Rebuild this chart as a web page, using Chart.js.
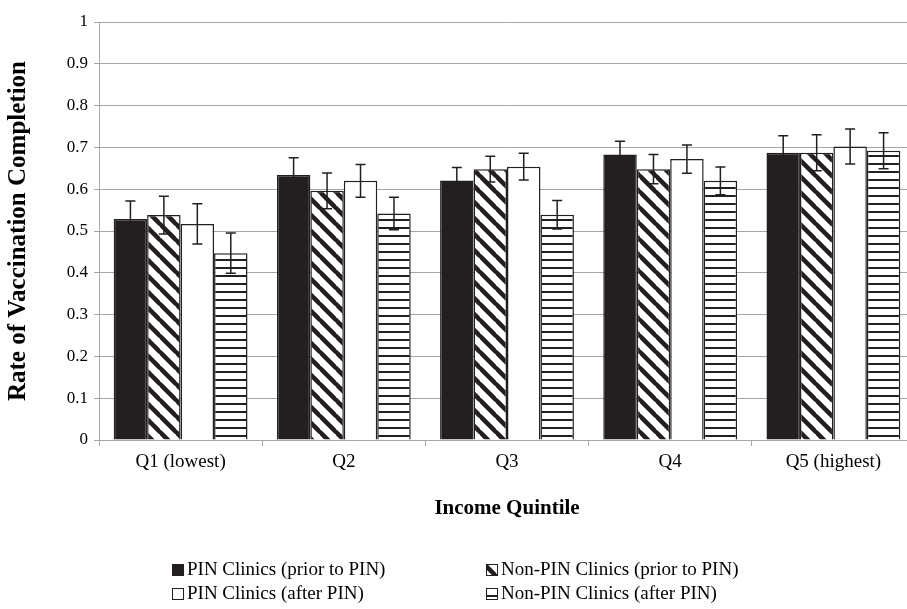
<!DOCTYPE html>
<html>
<head>
<meta charset="utf-8">
<title>Rate of Vaccination Completion by Income Quintile</title>
<script src="https://cdn.jsdelivr.net/npm/chart.js@4.4.1/dist/chart.umd.min.js"></script>
<style>
  html, body { margin: 0; padding: 0; background: #fff; overflow: hidden; }
  /* the original figure is cropped on the right, so the plot runs past the frame */
  #wrap { width: 907px; height: 609px; overflow: hidden; }
</style>
</head>
<body>
<div id="wrap"><canvas id="chart" width="916" height="609"></canvas></div>
<script>
const quintiles = ['Q1 (lowest)', 'Q2', 'Q3', 'Q4', 'Q5 (highest)'];
const seriesNames = [
  'PIN Clinics (prior to PIN)',
  'Non-PIN Clinics (prior to PIN)',
  'PIN Clinics (after PIN)',
  'Non-PIN Clinics (after PIN)',
];

const pinPrior = [0.529, 0.634, 0.621, 0.683, 0.687];
const nonPinPrior = [0.538, 0.596, 0.648, 0.648, 0.687];
const pinAfter = [0.517, 0.620, 0.654, 0.672, 0.702];
const nonPinAfter = [0.447, 0.542, 0.539, 0.620, 0.692];

// half-width of the error bars
const pinPriorErr = [0.043, 0.041, 0.031, 0.032, 0.041];
const nonPinPriorErr = [0.045, 0.043, 0.031, 0.035, 0.043];
const pinAfterErr = [0.048, 0.039, 0.032, 0.034, 0.042];
const nonPinAfterErr = [0.048, 0.039, 0.034, 0.033, 0.043];

const yTickValues = [0, 0.1, 0.2, 0.3, 0.4, 0.5, 0.6, 0.7, 0.8, 0.9, 1];

const INK = '#231f20';
const GRID = '#a6a6a6';
const SERIF = "'Liberation Serif', 'Times New Roman', serif";

function makeTile(size, draw) {
  const c = document.createElement('canvas');
  c.width = size;
  c.height = size;
  const g = c.getContext('2d');
  g.fillStyle = '#fff';
  g.fillRect(0, 0, size, size);
  draw(g, size);
  return document.getElementById('chart').getContext('2d').createPattern(c, 'repeat');
}

const diagonalFill = makeTile(16, (g, s) => {
  g.strokeStyle = INK;
  g.lineWidth = 4.5;
  for (let k = -1; k <= 1; k++) {
    g.beginPath();
    g.moveTo(-1, -1 + k * s);
    g.lineTo(s + 1, s + 1 + k * s);
    g.stroke();
  }
});

const horizontalFill = makeTile(8, (g, s) => {
  g.fillStyle = INK;
  g.fillRect(0, 3, s, 2);
});

const fills = [INK, diagonalFill, '#fff', horizontalFill];
const values = [pinPrior, nonPinPrior, pinAfter, nonPinAfter];
const errors = [pinPriorErr, nonPinPriorErr, pinAfterErr, nonPinAfterErr];

const errorBars = {
  id: 'errorBars',
  afterDatasetsDraw(chart) {
    const { ctx } = chart;
    const y = chart.scales.y;
    ctx.save();
    ctx.strokeStyle = INK;
    ctx.lineWidth = 1.5;
    chart.data.datasets.forEach((ds, i) => {
      const meta = chart.getDatasetMeta(i);
      meta.data.forEach((bar, j) => {
        const top = y.getPixelForValue(ds.data[j] + ds.errors[j]);
        const bottom = y.getPixelForValue(ds.data[j] - ds.errors[j]);
        const x = bar.x;
        ctx.beginPath();
        ctx.moveTo(x, top);
        ctx.lineTo(x, bottom);
        ctx.moveTo(x - 5, top);
        ctx.lineTo(x + 5, top);
        ctx.moveTo(x - 5, bottom);
        ctx.lineTo(x + 5, bottom);
        ctx.stroke();
      });
    });
    ctx.restore();
  },
};

// two-column legend under the axis title
const gridLegend = {
  id: 'gridLegend',
  afterDraw(chart) {
    const { ctx } = chart;
    const cols = [172, 486];
    const rows = [570, 594];
    const box = 12;
    ctx.save();
    ctx.font = `19px ${SERIF}`;
    ctx.textBaseline = 'middle';
    chart.data.datasets.forEach((ds, i) => {
      const x = cols[i % 2];
      const y = rows[Math.floor(i / 2)];
      ctx.fillStyle = ds.backgroundColor;
      ctx.fillRect(x, y - box / 2, box, box);
      ctx.strokeStyle = INK;
      ctx.lineWidth = 1;
      ctx.strokeRect(x + 0.5, y - box / 2 + 0.5, box - 1, box - 1);
      ctx.fillStyle = '#000';
      ctx.fillText(ds.label, x + box + 3, y);
    });
    ctx.restore();
  },
};

new Chart(document.getElementById('chart'), {
  type: 'bar',
  data: {
    labels: quintiles,
    datasets: seriesNames.map((name, i) => ({
      label: name,
      data: values[i],
      errors: errors[i],
      backgroundColor: fills[i],
      borderColor: INK,
      borderWidth: 1.5,
      categoryPercentage: 0.82,
      barPercentage: 1,
    })),
  },
  options: {
    responsive: false,
    animation: false,
    devicePixelRatio: 1,
    layout: { padding: { top: 22, right: 1, bottom: 79, left: 0 } },
    plugins: {
      legend: { display: false },
      tooltip: { enabled: false },
    },
    scales: {
      x: {
        grid: { offset: true, drawOnChartArea: false, tickLength: 6, color: GRID },
        border: { color: GRID },
        ticks: { color: '#000', font: { family: SERIF, size: 19 }, padding: 5 },
        title: {
          display: true,
          text: 'Income Quintile',
          color: '#000',
          font: { family: SERIF, size: 21, weight: 'bold' },
          padding: { top: 0, bottom: 9 },
        },
        afterFit(scale) { scale.height = 90; },
      },
      y: {
        min: 0,
        max: 1,
        afterBuildTicks(scale) {
          scale.ticks = yTickValues.map((v) => ({ value: v }));
        },
        grid: { color: GRID, tickLength: 5 },
        border: { color: GRID },
        ticks: {
          color: '#000',
          font: { family: SERIF, size: 17 },
          padding: 6,
          callback: (v) => String(Number(v.toFixed(1))),
        },
        title: {
          display: true,
          text: 'Rate of Vaccination Completion',
          color: '#000',
          font: { family: SERIF, size: 25, weight: 'bold' },
          padding: { top: 4, bottom: 0 },
        },
        afterFit(scale) { scale.width = 99; },
      },
    },
  },
  plugins: [errorBars, gridLegend],
});
</script>
</body>
</html>
